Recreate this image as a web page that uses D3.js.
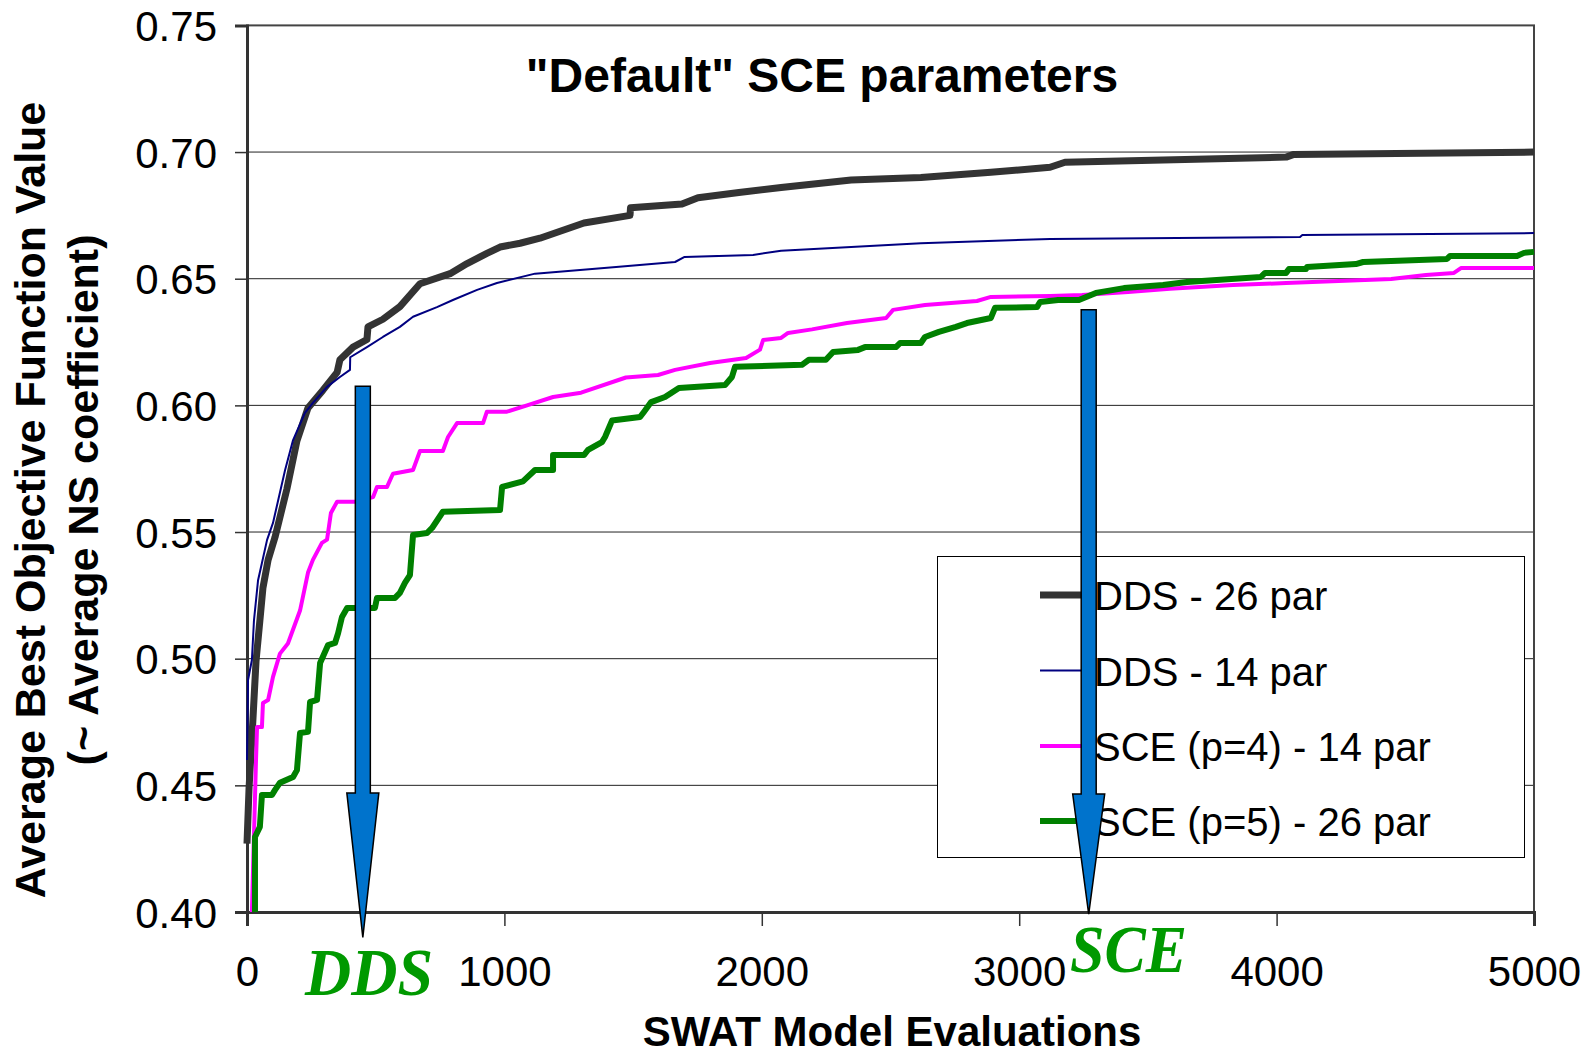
<!DOCTYPE html>
<html>
<head>
<meta charset="utf-8">
<script src="https://cdn.jsdelivr.net/npm/d3@7"></script>
<style>
  html, body { margin: 0; padding: 0; background: #fff; }
  svg { display: block; font-family: "Liberation Sans", Arial, sans-serif; }
</style>
</head>
<body>
<svg id="chart" width="1591" height="1055"></svg>
<script>
// ---------- data ----------
const seriesNames = ["DDS - 26 par", "DDS - 14 par", "SCE (p=4) - 14 par", "SCE (p=5) - 26 par"];
const seriesColors = ["#333333", "#000080", "#FF00FF", "#008000"];
const seriesWidths = [7, 2, 4, 6];

const dds26Evals = [0,8,23,35,50,62,82,109,155,194,237,295,350,361,412,466,470,528,594,672,789,855,932,983,1061,1138,1309,1488,1490,1690,1752,1911,2075,2347,2618,2890,3120,3178,4037,4064,5000];
const dds26Vals  = [0.427,0.449,0.476,0.499,0.515,0.528,0.539,0.548,0.567,0.586,0.599,0.606,0.613,0.618,0.623,0.626,0.631,0.634,0.639,0.648,0.652,0.656,0.660,0.6625,0.664,0.666,0.672,0.675,0.678,0.6795,0.682,0.684,0.686,0.689,0.690,0.692,0.694,0.696,0.698,0.699,0.700];

const dds14Evals = [0,4,19,27,43,58,78,101,148,179,225,256,311,361,400,401,466,528,594,645,738,800,894,971,1119,1434,1663,1700,1966,2075,2347,2618,3120,4091,4100,5000];
const dds14Vals  = [0.46,0.4916,0.4995,0.515,0.531,0.5378,0.5469,0.5536,0.5745,0.5863,0.597,0.601,0.6073,0.6112,0.614,0.619,0.623,0.627,0.631,0.635,0.6388,0.6416,0.6456,0.6483,0.652,0.6546,0.6566,0.6586,0.6594,0.661,0.6625,0.664,0.6657,0.6665,0.6673,0.668];

const sce4Evals = [19,35,39,58,62,82,101,128,159,206,237,256,291,311,326,350,420,490,505,544,567,645,672,761,781,816,917,932,1010,1088,1189,1298,1472,1597,1663,1799,1939,1993,2005,2075,2102,2195,2331,2483,2510,2634,2836,2890,3120,3244,3423,3586,3831,4037,4445,4580,4689,4716,5000];
const sce4Vals  = [0.400,0.460,0.473,0.473,0.4825,0.4837,0.4928,0.502,0.506,0.519,0.534,0.539,0.5457,0.547,0.5575,0.562,0.562,0.5638,0.5678,0.5678,0.573,0.5745,0.582,0.582,0.5875,0.593,0.593,0.5975,0.5975,0.600,0.6033,0.605,0.611,0.612,0.614,0.6167,0.6187,0.622,0.6258,0.6266,0.6286,0.630,0.6325,0.6345,0.6377,0.6396,0.6412,0.6428,0.6432,0.6436,0.6448,0.646,0.6475,0.6483,0.6499,0.6515,0.6523,0.6542,0.6542];

const sce5Evals = [31,31,50,58,97,109,128,179,194,206,237,245,272,284,315,342,354,369,389,497,505,575,594,614,633,645,699,719,761,983,991,1072,1119,1189,1189,1309,1325,1379,1391,1418,1527,1542,1570,1624,1678,1857,1884,1896,2156,2183,2249,2277,2374,2401,2521,2537,2618,2634,2688,2754,2797,2890,2906,3069,3081,3151,3232,3298,3407,3559,3652,3939,3955,4037,4048,4114,4118,4308,4336,4445,4662,4674,4934,4961,5000];
const sce5Vals  = [0.400,0.4296,0.4336,0.4462,0.4462,0.4482,0.451,0.4533,0.456,0.4707,0.4711,0.4829,0.4837,0.4983,0.5054,0.5062,0.5101,0.5165,0.520,0.520,0.524,0.524,0.526,0.530,0.533,0.5488,0.5496,0.5516,0.558,0.5587,0.5678,0.570,0.5745,0.5745,0.5804,0.5804,0.5824,0.5855,0.5875,0.594,0.5954,0.5974,0.6013,0.6033,0.6069,0.608,0.6112,0.6152,0.616,0.618,0.618,0.6211,0.6219,0.623,0.623,0.6246,0.6246,0.627,0.629,0.631,0.6325,0.6345,0.6385,0.6388,0.6408,0.6416,0.6416,0.6444,0.6463,0.6475,0.6487,0.6507,0.6523,0.6523,0.6538,0.6538,0.6546,0.6558,0.6566,0.657,0.6578,0.659,0.659,0.6602,0.6606];

const xTicks = [0, 1000, 2000, 3000, 4000, 5000];
const yTicks = [0.40, 0.45, 0.50, 0.55, 0.60, 0.65, 0.70, 0.75];
const gridVals = [0.45, 0.50, 0.55, 0.60, 0.65, 0.70];

// arrows: label, evaluation position, top value, head-start value, tip value
const arrowLabels = ["DDS", "SCE"];
const arrowEvals = [450, 3270];
const arrowTops = [0.6075, 0.6377];
const arrowHeads = [0.447, 0.4466];
const arrowTips = [0.390, 0.3992];

const titleText = "\"Default\" SCE parameters";
const xTitle = "SWAT Model Evaluations";
const yTitle1 = "Average Best Objective Function Value";
const yTitle2 = "(~ Average NS coefficient)";

// ---------- layout ----------
const L = 247, R = 1534, T = 25.4, B = 912;
const SANS = "'Liberation Sans', Arial, sans-serif";
const SERIF = "'Liberation Serif', 'Times New Roman', serif";
const svg = d3.select("#chart");
const x = d3.scaleLinear().domain([0, 5000]).range([L, R]);
const y = d3.scaleLinear().domain([0.40, 0.75]).range([B, T]);

// gridlines
svg.append("g").selectAll("line").data(gridVals).join("line")
  .attr("x1", L).attr("x2", R)
  .attr("y1", d => y(d)).attr("y2", d => y(d))
  .attr("stroke", "#222").attr("stroke-width", 1);

// plot border (top/right)
svg.append("rect").attr("x", L).attr("y", T).attr("width", R - L).attr("height", B - T)
  .attr("fill", "none").attr("stroke", "#444").attr("stroke-width", 2);

// axes
const yAxis = d3.axisLeft(y).tickValues(yTicks).tickFormat(d3.format(".2f")).tickSize(12).tickPadding(18);
const xAxis = d3.axisBottom(x).tickValues(xTicks).tickFormat(d3.format("d")).tickSize(14).tickPadding(30);

const gy = svg.append("g").attr("transform", `translate(${L},0)`).call(yAxis);
gy.select(".domain").attr("stroke", "#333").attr("stroke-width", 3);
gy.selectAll(".tick line").attr("stroke", "#333").attr("stroke-width", 1.5);
gy.selectAll(".tick text").style("font-size", "42px").style("font-family", SANS)
  .attr("fill", "#000").attr("dy", "0.36em");

const gx = svg.append("g").attr("transform", `translate(0,${B})`).call(xAxis);
gx.select(".domain").attr("stroke", "#333").attr("stroke-width", 3);
gx.selectAll(".tick line").attr("stroke", "#333").attr("stroke-width", 1.5);
gx.selectAll(".tick text").style("font-size", "42px").style("font-family", SANS)
  .attr("fill", "#000").attr("dy", "0.71em");

// series
const allSeries = [
  d3.zip(dds26Evals, dds26Vals),
  d3.zip(dds14Evals, dds14Vals),
  d3.zip(sce4Evals, sce4Vals),
  d3.zip(sce5Evals, sce5Vals)
];
const line = d3.line().x(d => x(d[0])).y(d => y(d[1]));
svg.append("g").selectAll("path").data(allSeries).join("path")
  .attr("d", line)
  .attr("fill", "none")
  .attr("stroke", (d, i) => seriesColors[i])
  .attr("stroke-width", (d, i) => seriesWidths[i])
  .attr("stroke-linejoin", "round");

// legend
const lg = svg.append("g");
lg.append("rect").attr("x", 937.5).attr("y", 556.5).attr("width", 587).attr("height", 301)
  .attr("fill", "#fff").attr("stroke", "#000").attr("stroke-width", 1);
const legY = [595, 670.5, 746, 821];
seriesNames.forEach((name, i) => {
  lg.append("line").attr("x1", 1040).attr("x2", 1092).attr("y1", legY[i]).attr("y2", legY[i])
    .attr("stroke", seriesColors[i]).attr("stroke-width", seriesWidths[i]);
  lg.append("text").attr("x", 1094).attr("y", legY[i] + 15)
    .style("font-size", "40px").style("font-family", SANS).attr("fill", "#000").text(name);
});

// arrows
const shaftHalf = 7.5, headHalf = 16;
arrowEvals.forEach((ev, i) => {
  const cx = x(ev), yt = y(arrowTops[i]), yh = y(arrowHeads[i]), ytip = y(arrowTips[i]);
  const pts = [
    [cx - shaftHalf, yt], [cx + shaftHalf, yt], [cx + shaftHalf, yh], [cx + headHalf, yh],
    [cx, ytip], [cx - headHalf, yh], [cx - shaftHalf, yh]
  ];
  svg.append("path").attr("d", "M" + pts.map(p => p.join(",")).join("L") + "Z")
    .attr("fill", "#0073CC").attr("stroke", "#000").attr("stroke-width", 1.5)
    .attr("stroke-linejoin", "miter");
});

// arrow labels
const labPos = [[305, 995], [1070, 972]];
const labLen = [128, 117];
arrowLabels.forEach((lab, i) => {
  svg.append("text").attr("x", labPos[i][0]).attr("y", labPos[i][1])
    .attr("textLength", labLen[i]).attr("lengthAdjust", "spacingAndGlyphs")
    .style("font-family", SERIF).style("font-style", "italic").style("font-weight", "bold")
    .style("font-size", "68px").attr("fill", "#009900").text(lab);
});

// titles
svg.append("text").attr("x", 822).attr("y", 92).attr("text-anchor", "middle")
  .style("font-family", SANS).style("font-weight", "bold").style("font-size", "48px")
  .attr("fill", "#000").text(titleText);
svg.append("text").attr("x", 892).attr("y", 1046).attr("text-anchor", "middle")
  .style("font-family", SANS).style("font-weight", "bold").style("font-size", "42px")
  .attr("fill", "#000").text(xTitle);
svg.append("text").attr("transform", "translate(45,500) rotate(-90)").attr("text-anchor", "middle")
  .style("font-family", SANS).style("font-weight", "bold").style("font-size", "43px")
  .attr("fill", "#000").text(yTitle1);
svg.append("text").attr("transform", "translate(98,500) rotate(-90)").attr("text-anchor", "middle")
  .style("font-family", SANS).style("font-weight", "bold").style("font-size", "43px")
  .attr("fill", "#000").text(yTitle2);
</script>
</body>
</html>
